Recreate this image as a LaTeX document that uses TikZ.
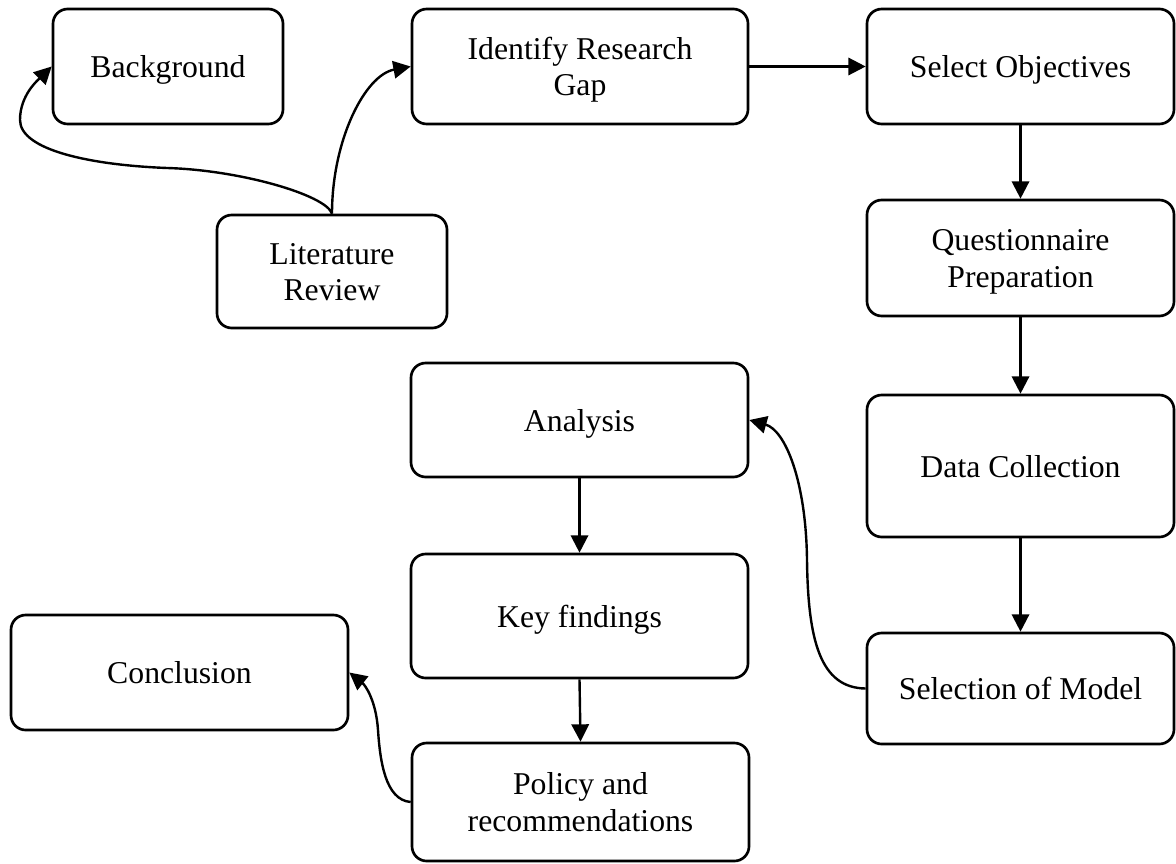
\documentclass[tikz,border=0pt]{standalone}
\usepackage{fontspec}
\setmainfont{Liberation Serif}
\usetikzlibrary{arrows.meta}

% struts that fix the top and bottom of every label
\newcommand{\lblhi}{\rule{0pt}{23.5pt}}
\newcommand{\lbllo}{\rule[-7pt]{0pt}{7pt}}

\tikzset{
  stepbox/.style={draw=black, line width=2pt, rounded corners=11pt,
    fill=white, align=center, inner sep=0pt,
    font=\fontsize{23.8}{27.6}\selectfont},
  flow/.style={draw=black, line width=1.8pt,
    -{Triangle[length=13pt,width=13pt]}}
}

\begin{document}
\begin{tikzpicture}[x=0.75pt,y=-0.75pt]
  \useasboundingbox (0,0) rectangle (1176,863);

  % process boxes
  \node[stepbox, minimum width=230pt*0.75, minimum height=115pt*0.75] (bg)    at (168,66.5)    {\lblhi Background\lbllo};
  \node[stepbox, minimum width=336pt*0.75, minimum height=115pt*0.75] (gap)   at (580,66.5)    {\lblhi Identify Research\\Gap\lbllo};
  \node[stepbox, minimum width=307pt*0.75, minimum height=115pt*0.75] (obj)   at (1020.5,66.5) {\lblhi Select Objectives\lbllo};
  \node[stepbox, minimum width=230pt*0.75, minimum height=113pt*0.75] (lit)   at (332,271.5)   {\lblhi Literature\\Review\lbllo};
  \node[stepbox, minimum width=307pt*0.75, minimum height=116pt*0.75] (quest) at (1020.5,258)  {\lblhi Questionnaire\\Preparation\lbllo};
  \node[stepbox, minimum width=307pt*0.75, minimum height=142pt*0.75] (data)  at (1020.5,466)  {\lblhi Data Collection\lbllo};
  \node[stepbox, minimum width=307pt*0.75, minimum height=111pt*0.75] (sel)   at (1020.5,688.5){\lblhi Selection of Model\lbllo};
  \node[stepbox, minimum width=337pt*0.75, minimum height=114pt*0.75] (ana)   at (579.5,420)   {\lblhi Analysis\lbllo};
  \node[stepbox, minimum width=337pt*0.75, minimum height=124pt*0.75] (key)   at (579.5,616)   {\lblhi Key findings\lbllo};
  \node[stepbox, minimum width=337pt*0.75, minimum height=115pt*0.75] (conc)  at (179.5,672.5) {\lblhi Conclusion\lbllo};
  \node[stepbox, minimum width=337pt*0.75, minimum height=118pt*0.75] (pol)   at (580.5,802)   {\lblhi Policy and\\recommendations\lbllo};

  % curved links out of the literature review
  \draw[flow] (lit.north) .. controls (326,195) and (240,170) .. (167,168)
                          .. controls (90,165) and (20,150) .. (20,120)
                          .. controls (20,95) and (38,80) .. (bg.west);
  \draw[flow] (lit.north) .. controls (332,140) and (365,75) .. (gap.west);

  % main chain
  \draw[flow] (gap.east) -- (obj.west);
  \draw[flow] (obj.south) -- (quest.north);
  \draw[flow] (quest.south) -- (data.north);
  \draw[flow] (data.south) -- (sel.north);

  % model feeds back into the analysis
  \draw[flow] (sel.west) .. controls (820,688) and (808,640) .. (807,560)
                         .. controls (806,480) and (785,430) .. (ana.east);

  \draw[flow] (ana.south) -- (key.north);
  \draw[flow] (key.south) -- (pol.north);

  % recommendations lead to the conclusion
  \draw[flow] (pol.west) .. controls (385,800) and (380,760) .. (378,730)
                         .. controls (376,700) and (365,685) .. (conc.east);
\end{tikzpicture}
\end{document}
